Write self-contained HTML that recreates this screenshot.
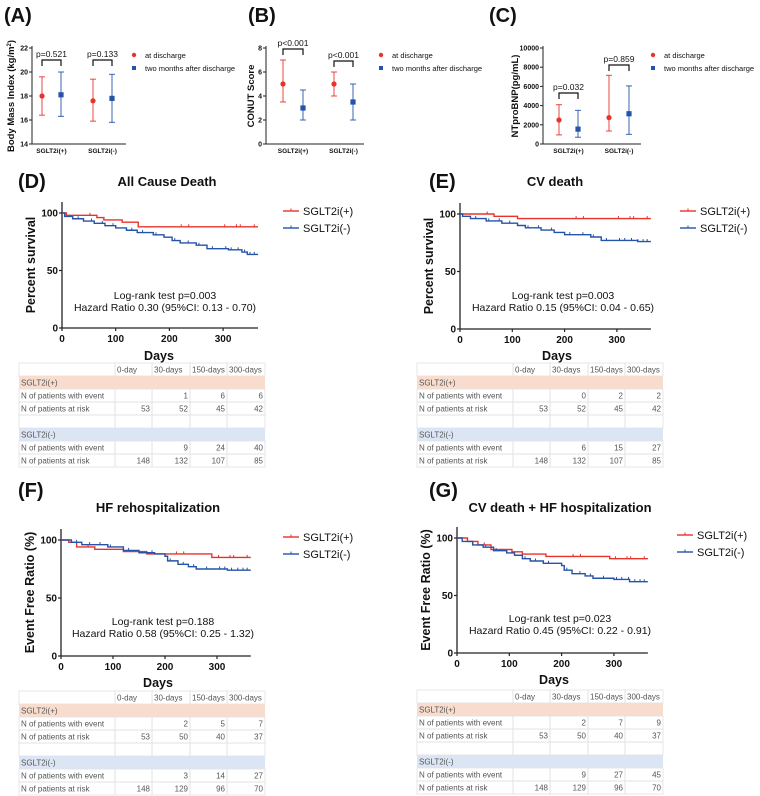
<!DOCTYPE html>
<html><head><meta charset="utf-8">
<style>
html,body{margin:0;padding:0;background:#fff;}
svg{display:block;font-family:"Liberation Sans",Arial,sans-serif;}
</style></head>
<body>
<svg id="fig" width="760" height="796" viewBox="0 0 760 796" xmlns="http://www.w3.org/2000/svg"></svg>
<script>
// ---------- data ----------
const groupLabels = ["SGLT2i(+)", "SGLT2i(-)"];
const seriesNames = ["at discharge", "two months after discharge"];
// A: BMI  [mean, low, high] per group: red, blue
const bmiRed = [[18.0,16.4,19.6],[17.6,15.9,19.4]];
const bmiBlue = [[18.1,16.3,20.0],[17.8,15.8,19.8]];
const bmiP = ["p=0.521","p=0.133"];
const bmiTicks = [14,16,18,20,22];
// B: CONUT
const conutRed = [[5,3.5,7],[5,4,6]];
const conutBlue = [[3,2,4.5],[3.5,2,5]];
const conutP = ["p<0.001","p<0.001"];
const conutTicks = [0,2,4,6,8];
// C: NTproBNP
const bnpRed = [[2500,950,4100],[2750,1350,7150]];
const bnpBlue = [[1550,700,3500],[3150,1000,6050]];
const bnpP = ["p=0.032","p=0.859"];
const bnpTicks = [0,2000,4000,6000,8000,10000];

// KM curves: [day, percent] steps
const dRed = [[0,100],[8,98],[65,96],[78,94],[112,92],[142,88],[365,88]];
const dBlue = [[0,100],[5,97],[20,95],[40,93],[60,91],[80,89],[100,87],[120,85],[140,83],[170,81],[190,79],[205,76],[220,74],[250,72],[270,69],[310,68],[335,66],[345,64],[365,64]];
const eRed = [[0,100],[65,98],[110,96],[365,96]];
const eBlue = [[0,100],[5,98],[20,96],[50,94],[80,92],[110,90],[125,88],[155,86],[180,84],[200,82],[250,80],[270,77],[340,76],[365,76]];
const fRed = [[0,100],[15,98],[30,94],[65,92],[120,90],[165,88],[290,85],[365,85]];
const fBlue = [[0,100],[20,98],[40,96],[90,94],[120,91],[150,89],[180,88],[200,86],[205,82],[225,79],[245,77],[260,75],[320,74],[365,74]];
const gRed = [[0,100],[20,97],[40,94],[65,90],[105,88],[125,86],[170,84],[292,82],[365,82]];
const gBlue = [[0,100],[10,97],[30,94],[50,92],[70,89],[95,87],[110,85],[125,82],[140,80],[165,78],[200,76],[205,72],[220,69],[245,67],[260,65],[300,64],[330,62],[365,62]];
const censorRed = [52,222,236,303,325,332,358];
const censorBlue = [30,55,75,95,130,150,175,210,235,255,280,305,315,328,340,350,358];
const kmTicksX = [0,100,200,300];
const kmTicksY = [0,50,100];
// tables
const tableHeader = ["","0-day","30-days","150-days","300-days"];
const tD = {pe:["","1","6","6"], pr:["53","52","45","42"], me:["","9","24","40"], mr:["148","132","107","85"]};
const tE = {pe:["","0","2","2"], pr:["53","52","45","42"], me:["","6","15","27"], mr:["148","132","107","85"]};
const tF = {pe:["","2","5","7"], pr:["53","50","40","37"], me:["","3","14","27"], mr:["148","129","96","70"]};
const tG = {pe:["","2","7","9"], pr:["53","50","40","37"], me:["","9","27","45"], mr:["148","129","96","70"]};

// ---------- helpers ----------
const svg = document.getElementById('fig');
const NS = "http://www.w3.org/2000/svg";
const RED = "#e8332a", BLUE = "#2553a8";
function el(tag, attrs, parent, text){
  const e = document.createElementNS(NS, tag);
  for (const k in attrs) e.setAttribute(k, attrs[k]);
  if (text !== undefined) e.textContent = text;
  (parent || svg).appendChild(e);
  return e;
}
function txt(x,y,s,size,opts,parent){
  opts = opts||{};
  const t = el('text',{x:x,y:y,'font-size':size,'font-weight':opts.bold?'bold':'normal','text-anchor':opts.anchor||'start',fill:opts.fill||'#111'},parent,s);
  if(opts.rot) t.setAttribute('transform','rotate(-90 '+x+' '+y+')');
  return t;
}

// ---------- dot panels ----------
function dotPanel(cfg){
  const g = el('g',{});
  
  
  const top=48, bot=144, ax=cfg.ax;
  const ys = v => bot - (v - cfg.min)/(cfg.max-cfg.min)*(bot-top);
  el('line',{x1:ax,y1:top-2,x2:ax,y2:bot,stroke:'#222','stroke-width':1},g);
  el('line',{x1:ax,y1:bot,x2:cfg.axEnd,y2:bot,stroke:'#222','stroke-width':1},g);
  cfg.ticks.forEach(t=>{
    el('line',{x1:ax-3,y1:ys(t),x2:ax,y2:ys(t),stroke:'#222'},g);
    const l = txt(ax-4,ys(t)+2.5,String(t),7,{bold:true,anchor:'end'},g);
    
    
  });
  const yt = txt(cfg.titleX,96,'',9.5,{bold:true,anchor:'middle',rot:true},g);
  
  
  if(cfg.titleSup){ yt.textContent = cfg.title; el('tspan',{'baseline-shift':'super','font-size':6},yt,cfg.titleSup); el('tspan',{},yt,')'); }
  else yt.textContent = cfg.title;
  for(let i=0;i<2;i++){
    const xr=cfg.xs[i][0], xb=cfg.xs[i][1];
    const xl = txt((xr+xb)/2,153,groupLabels[i],6.5,{bold:true,anchor:'middle'},g);
    
    
    [[xr,cfg.red[i],RED],[xb,cfg.blue[i],BLUE]].forEach(([x,d,c],j)=>{
      const eb = el('g',{},g);
      
      
      el('line',{x1:x,y1:ys(d[1]),x2:x,y2:ys(d[2]),stroke:c,'stroke-width':1.2,opacity:0.75},eb);
      el('line',{x1:x-3,y1:ys(d[1]),x2:x+3,y2:ys(d[1]),stroke:c,'stroke-width':1.2,opacity:0.75},eb);
      el('line',{x1:x-3,y1:ys(d[2]),x2:x+3,y2:ys(d[2]),stroke:c,'stroke-width':1.2,opacity:0.75},eb);
      if(j===0) el('circle',{cx:x,cy:ys(d[0]),r:2.6,fill:c},eb);
      else el('rect',{x:x-2.6,y:ys(d[0])-2.6,width:5.2,height:5.2,fill:c},eb);
    });
    const by = cfg.brY[i];
    const br = el('path',{d:`M${xr},${by+6}V${by}H${xb}V${by+6}`,fill:'none',stroke:'#111','stroke-width':1.2},g);
    
    
    const pl = txt((xr+xb)/2,by-3,cfg.p[i],8.5,{anchor:'middle'},g);
    
    
  }
  const lg = el('g',{},g);
  
  
  el('circle',{cx:cfg.lx,cy:55,r:2.2,fill:RED},lg);
  el('rect',{x:cfg.lx-2,y:66,width:4,height:4,fill:BLUE},lg);
  txt(cfg.lx+11,58,seriesNames[0],7.5,{},lg);
  txt(cfg.lx+11,71,seriesNames[1],7.5,{},lg);
  const pl = txt(cfg.labX,22,cfg.label,20,{bold:true},g);
  
  
}
dotPanel({name:'panel-a-bmi',ax:32,axEnd:126,min:14,max:22,ticks:bmiTicks,red:bmiRed,blue:bmiBlue,p:bmiP,
  xs:[[42,61],[93,112]],brY:[60,60],title:'Body Mass Index (kg/m',titleSup:'2',titleX:14,lx:134,labX:4,label:'(A)'});
dotPanel({name:'panel-b-conut',ax:266,axEnd:364,min:0,max:8,ticks:conutTicks,red:conutRed,blue:conutBlue,p:conutP,
  xs:[[283,303],[334,353]],brY:[49,61],title:'CONUT Score',titleX:254,lx:381,labX:248,label:'(B)'});
dotPanel({name:'panel-c-ntprobnp',ax:543,axEnd:641,min:0,max:10000,ticks:bnpTicks,red:bnpRed,blue:bnpBlue,p:bnpP,
  xs:[[559,578],[609,629]],brY:[93,65],title:'NTproBNP(pg/mL)',titleX:518,lx:653,labX:489,label:'(C)'});

// ---------- KM panels ----------
function km(cfg){
  const g = el('g',{});
  
  
  const xs = d => cfg.ax + d*cfg.ppd;
  const ys = v => cfg.y0 - v/100*(cfg.y0-cfg.y100);
  const top = cfg.y100 - 11;
  el('line',{x1:cfg.ax,y1:top,x2:cfg.ax,y2:cfg.y0,stroke:'#222','stroke-width':1.3},g);
  el('line',{x1:cfg.ax,y1:cfg.y0,x2:xs(365),y2:cfg.y0,stroke:'#222','stroke-width':1.3},g);
  kmTicksY.forEach(t=>{
    el('line',{x1:cfg.ax-3,y1:ys(t),x2:cfg.ax,y2:ys(t),stroke:'#222','stroke-width':1.2},g);
    const l=txt(cfg.ax-4,ys(t)+3.5,String(t),10,{bold:true,anchor:'end'},g);
    
    
  });
  kmTicksX.forEach(t=>{
    el('line',{x1:xs(t),y1:cfg.y0,x2:xs(t),y2:cfg.y0+3,stroke:'#222','stroke-width':1.2},g);
    const l=txt(xs(t),cfg.y0+14,String(t),10,{bold:true,anchor:'middle'},g);
    
    
  });
  const xt = txt(cfg.ax+97,cfg.daysY,'Days',12.5,{bold:true,anchor:'middle'},g);
  
  
  const yt = txt(cfg.ax-27,(cfg.y0+top)/2,cfg.ytitle,12.5,{bold:true,anchor:'middle',rot:true},g);
  
  
  [[cfg.red,RED,censorRed,'curve-sglt2i-plus'],[cfg.blue,BLUE,censorBlue,'curve-sglt2i-minus']].forEach(([pts,c,cens,nm])=>{
    let d = `M${xs(pts[0][0])},${ys(pts[0][1])}`;
    for(let i=1;i<pts.length;i++){ d += `H${xs(pts[i][0])}V${ys(pts[i][1])}`; }
    const p = el('path',{d:d,fill:'none',stroke:c,'stroke-width':1.4},g);
    
    
    cens.forEach(cd=>{
      let v = pts[0][1];
      for(const q of pts){ if(q[0]<=cd) v=q[1]; }
      el('line',{x1:xs(cd),y1:ys(v)-2.5,x2:xs(cd),y2:ys(v),stroke:c,'stroke-width':1},g);
    });
  });
  const lg = el('g',{},g);
  
  
  [[RED,'SGLT2i(+)',cfg.ly1],[BLUE,'SGLT2i(-)',cfg.ly2]].forEach(([c,s,y])=>{
    el('line',{x1:cfg.lx,y1:y,x2:cfg.lx+16,y2:y,stroke:c,'stroke-width':1.4},lg);
    el('line',{x1:cfg.lx+8,y1:y-2.5,x2:cfg.lx+8,y2:y,stroke:c,'stroke-width':1},lg);
    txt(cfg.lx+20,y+4,s,11,{},lg);
  });
  const a = txt(cfg.tx,cfg.ty,cfg.t1,10.5,{anchor:'middle'},g);
  
  
  const b = txt(cfg.tx,cfg.ty+12,cfg.t2,10.5,{anchor:'middle'},g);
  
  
  const tt = txt(cfg.titleX,cfg.titleY,cfg.title,13,{bold:true,anchor:'middle'},g);
  
  
  const pl = txt(cfg.labX,cfg.labY,cfg.label,20,{bold:true},g);
  
  
}
function table(x0, y0, x1, cols, t, name){
  const g = el('g',{});
  
  
  const rh = 13;
  const bounds = [x0, ...cols, x1];
  const rows = [
    ['h', tableHeader],
    ['gp', ['SGLT2i(+)']],
    ['d', ['N of patients with event', ...t.pe]],
    ['d', ['N of patients at risk', ...t.pr]],
    ['d', ['', '', '', '', '']],
    ['gm', ['SGLT2i(-)']],
    ['d', ['N of patients with event', ...t.me]],
    ['d', ['N of patients at risk', ...t.mr]],
  ];
  rows.forEach((r,i)=>{
    const y = y0 + i*rh;
    if(r[0]==='gp'||r[0]==='gm'){
      el('rect',{x:x0,y:y,width:x1-x0,height:rh,fill:r[0]==='gp'?'#f8dccd':'#dbe5f3'},g);
      txt(x0+2,y+9.5,r[1][0],8,{fill:'#555'},g);
    } else {
      for(let c=0;c<5;c++){
        el('rect',{x:bounds[c],y:y,width:bounds[c+1]-bounds[c],height:rh,fill:'none',stroke:'#e2e2e2','stroke-width':0.8},g);
        const s = r[1][c]; if(!s) continue;
        if(r[0]==='h') txt(bounds[c]+2,y+9.5,s,8,{fill:'#555'},g);
        else if(c===0) txt(bounds[c]+2,y+9.5,s,8,{fill:'#555'},g);
        else txt(bounds[c+1]-2,y+9.5,s,8,{fill:'#555',anchor:'end'},g);
      }
    }
  });
}
km({name:'panel-d-all-cause-death',ax:62,y100:213,y0:328,ppd:0.537,red:dRed,blue:dBlue,ytitle:'Percent survival',
  daysY:360,lx:283,ly1:211,ly2:228,tx:165,ty:299,t1:'Log-rank test p=0.003',t2:'Hazard Ratio 0.30 (95%CI: 0.13 - 0.70)',
  title:'All Cause Death',titleX:167,titleY:186,label:'(D)',labX:18,labY:188});
table(19,363,265,[115,152,190,227],tD,'risk-table-d');
km({name:'panel-e-cv-death',ax:460,y100:214,y0:329,ppd:0.523,red:eRed,blue:eBlue,ytitle:'Percent survival',
  daysY:360,lx:680,ly1:211,ly2:228,tx:563,ty:299,t1:'Log-rank test p=0.003',t2:'Hazard Ratio 0.15 (95%CI: 0.04 - 0.65)',
  title:'CV death',titleX:555,titleY:186,label:'(E)',labX:429,labY:188});
table(417,363,663,[513,550,588,625],tE,'risk-table-e');
km({name:'panel-f-hf-rehospitalization',ax:61,y100:540,y0:656,ppd:0.52,red:fRed,blue:fBlue,ytitle:'Event Free Ratio (%)',
  daysY:687,lx:283,ly1:537,ly2:554,tx:163,ty:625,t1:'Log-rank test p=0.188',t2:'Hazard Ratio 0.58 (95%CI: 0.25 - 1.32)',
  title:'HF rehospitalization',titleX:158,titleY:512,label:'(F)',labX:18,labY:497});
table(19,691,265,[115,152,190,227],tF,'risk-table-f');
km({name:'panel-g-cv-death-hf-hospitalization',ax:457,y100:538,y0:653,ppd:0.523,red:gRed,blue:gBlue,ytitle:'Event Free Ratio (%)',
  daysY:684,lx:677,ly1:535,ly2:552,tx:560,ty:622,t1:'Log-rank test p=0.023',t2:'Hazard Ratio 0.45 (95%CI: 0.22 - 0.91)',
  title:'CV death + HF hospitalization',titleX:560,titleY:512,label:'(G)',labX:429,labY:497});
table(417,690,663,[513,550,588,625],tG,'risk-table-g');
</script>
</body></html>
